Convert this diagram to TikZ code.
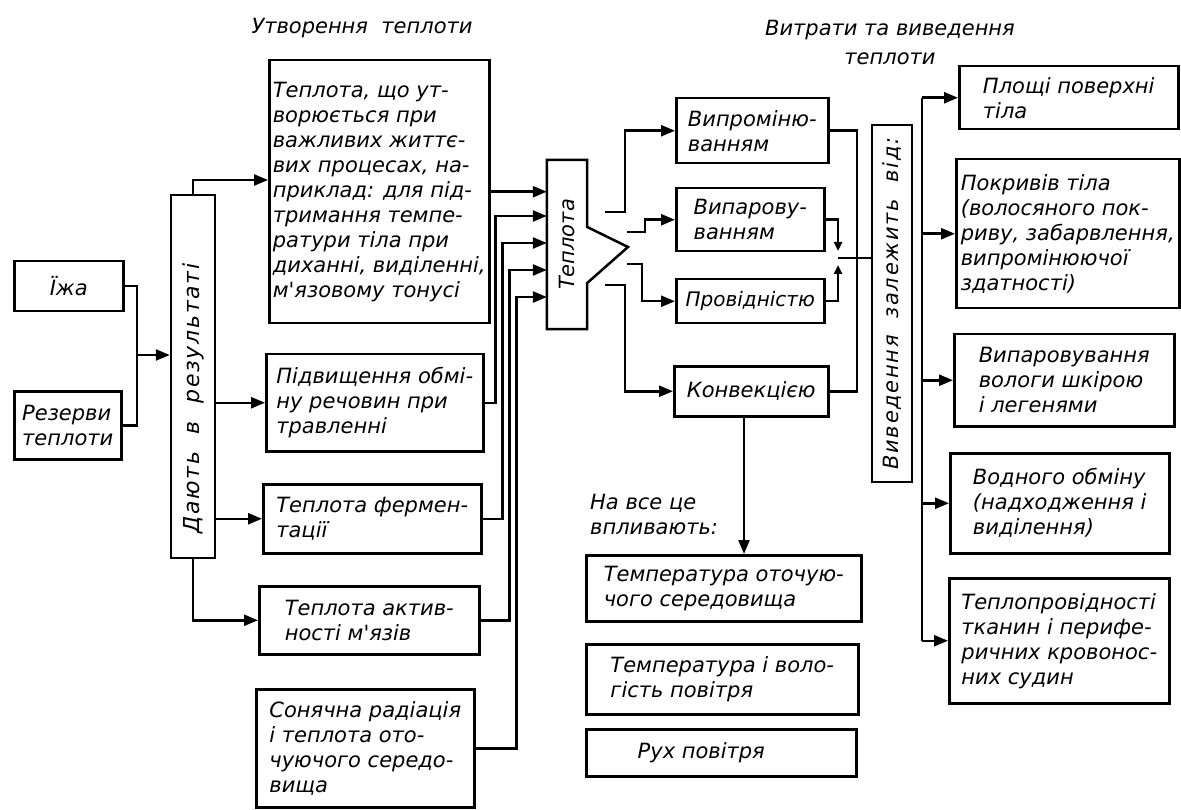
\documentclass[tikz,border=0pt]{standalone}
\usepackage{fontspec}
\usepackage{graphicx}
\newfontfamily\gost{DejaVu Sans}
\usetikzlibrary{arrows.meta}
\tikzset{
  every node/.style={font=\gost\itshape\fontsize{21}{25}\selectfont},
  box/.style={draw, line width=2.5pt, align=left, inner xsep=3pt, inner ysep=2pt},
  nw/.style={anchor=north west},
  ln/.style={line width=2.5pt},
  arr/.style={ln, -{Triangle[length=14pt,width=11pt]}},
  arrs/.style={ln, -{Triangle[length=9pt,width=8pt]}},
}
\begin{document}
\begin{tikzpicture}[x=1pt,y=-1pt]
\fill[white] (0,0) rectangle (1181,810);
\useasboundingbox (0,0) rectangle (1181,810);

% titles
\node (t1) at (362,28) {Утворення\ \ теплоти};
\node[align=center] (t2) at (890,42) {Витрати та виведення\\[4pt]теплоти};

% left sources
\node[box,nw,minimum width=109,minimum height=50] (food) at (13,260) {Їжа};
\node[box,nw,minimum width=107,minimum height=68] (res) at (13,390) {Резерви\\теплоти};
\node[box,minimum width=44,minimum height=363] (D) at (193,376.5)
  {\rotatebox{90}{\fontsize{22}{25}\selectfont\addfontfeature{LetterSpace=8}Дають\ \ в\ \ результаті\hspace{44pt}}};

% production boxes
\node[box,nw,minimum width=220,minimum height=263] (B1) at (268,59)
  {Теплота, що ут-\\ворюється при\\важливих життє-\\вих процесах, на-\\приклад: для під-\\тримання темпе-\\ратури тіла при\\диханні, виділенні,\\м'язовому тонусі};
\node[box,nw,minimum width=217,minimum height=97] (B2) at (265,353)
  {Підвищення обмі-\\ну речовин при\\травленні};
\node[box,nw,minimum width=218,minimum height=69] (B3) at (262,483)
  {Теплота фермен-\\тації};
\node[box,nw,minimum width=220,minimum height=68] (B4) at (258,585)
  {Теплота актив-\\ності м'язів};
\node[box,nw,minimum width=218,minimum height=118] (B5) at (255,688)
  {Сонячна радіація\\і теплота ото-\\чуючого середо-\\вища};

% heat node
\node[minimum width=40,minimum height=169,inner sep=0pt] (tep) at (567,244.5) {\rotatebox{90}{Теплота}};
\coordinate (tip) at (628,247);
\draw[ln,line join=miter] (tep.north west) -- (tep.north east) -- (tep.east |- 0,227) -- (tip)
  -- (tep.east |- 0,283) -- (tep.south east) -- (tep.south west) -- cycle;

% loss boxes
\node[box,nw,minimum width=152,minimum height=65] (R1) at (675,97) {Випроміню-\\ванням};
\node[box,nw,minimum width=148,minimum height=63] (R2) at (675,187) {Випарову-\\ванням};
\node[box,nw,minimum width=148,minimum height=44,font=\gost\itshape\fontsize{20}{25}\selectfont] (R3) at (675,278) {Провідністю};
\node[box,nw,minimum width=154,minimum height=50] (R4) at (673,365) {Конвекцією};

\node[box,minimum width=40,minimum height=357] (V) at (892,303.5)
  {\rotatebox{90}{\fontsize{21}{25}\selectfont\addfontfeature{LetterSpace=8}Виведення\ \ залежить\ \ від:}};

% right boxes
\node[box,nw,minimum width=219,minimum height=63] (P1) at (958,65) {Площі поверхні\\тіла};
\node[box,nw,minimum width=223,minimum height=149] (P2) at (955,158)
  {Покривів тіла\\(волосяного пок-\\риву, забарвлення,\\випромінюючої\\здатності)};
\node[box,nw,minimum width=220,minimum height=92] (P3) at (953,333)
  {Випаровування\\вологи шкірою\\і легенями};
\node[box,nw,minimum width=219,minimum height=100] (P4) at (949,452)
  {Водного обміну\\(надходження і\\виділення)};
\node[box,nw,minimum width=220,minimum height=125] (P5) at (948,577)
  {Теплопровідності\\тканин і перифе-\\ричних кровонос-\\них судин};

% environment
\node[nw,align=left,inner sep=0pt] (note) at (590,494) {На все це\\впливають:};
\node[box,nw,minimum width=275,minimum height=66] (E1) at (585,554)
  {Температура оточую-\\чого середовища};
\node[box,nw,minimum width=272,minimum height=70] (E2) at (585,643)
  {Температура і воло-\\гість повітря};
\node[box,nw,minimum width=270,minimum height=47] (E3) at (585,728) {Рух повітря\hspace{40pt}};

% connectors left
\coordinate (j1) at (137,355);
\draw[ln] (food.east) -| (j1) |- (res.east);
\draw[arr] (j1) -- (j1 -| D.west);
\draw[arr] (D.north) |- (B1.west |- 0,180);
\draw[arr] (D.east |- B2.west) -- (B2.west);
\draw[arr] (D.east |- B3.west) -- (B3.west);
\draw[arr] (D.south) |- (B4.west);

% into heat
\draw[arr] (B1.east) -- (B1.east -| tep.west);
\draw[arr] (B2.east) -- ++(11,0) |- (tep.west |- 0,216);
\draw[arr] (B3.east) -- ++(20,0) |- (tep.west |- 0,243);
\draw[arr] (B4.east) -- ++(29,0) |- (tep.west |- 0,270);
\draw[arr] (B5.east) -- ++(41,0) |- (tep.west |- 0,297);

% out of heat
\coordinate (o1) at (605,212);
\coordinate (o2) at (627,232);
\coordinate (o3) at (627,264);
\coordinate (o4) at (605,285);
\draw[arr] (o1) -- ++(20,0) |- (R1.west);
\draw[arr] (o2) -- ++(18,0) |- (R2.west);
\draw[arr] (o3) -- ++(15,0) |- (R3.west);
\draw[arr] (o4) -- ++(20,0) |- (R4.west);

% merge to V
\draw[ln] (R1.east) -- (R1.east -| 857,0) |- (R4.east);
\coordinate (jn) at (838,258);
\draw[arrs] (R2.east) -| (838,251);
\draw[arrs] (R3.east) -| (838,265);
\draw[ln] (jn) -- (jn -| V.west);

% bus
\coordinate (bus) at (922,0);
\draw[ln] (P1.west -| bus) -- (P5.west -| bus);
\foreach \n in {P1,P2,P3,P4,P5} \draw[arr] (\n.west -| bus) -- (\n.west);

% convection down
\draw[arr] (R4.south -| 744,0) -- (E1.north -| 744,0);
\end{tikzpicture}
\end{document}
